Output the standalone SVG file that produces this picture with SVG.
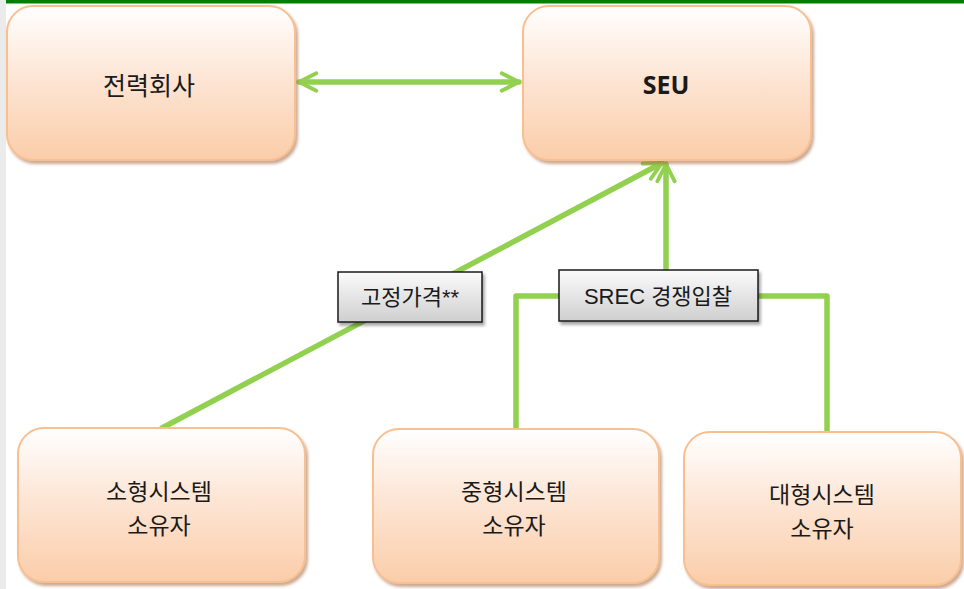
<svg xmlns="http://www.w3.org/2000/svg" width="964" height="589" viewBox="0 0 964 589">
<defs>
<linearGradient id="peach" x1="0" y1="0" x2="0" y2="1">
<stop offset="0" stop-color="#ffffff"/>
<stop offset="0.45" stop-color="#fde6d6"/>
<stop offset="1" stop-color="#fbcda9"/>
</linearGradient>
<linearGradient id="gray" x1="0" y1="0" x2="0" y2="1">
<stop offset="0" stop-color="#fbfbfb"/>
<stop offset="1" stop-color="#cfcfcf"/>
</linearGradient>
<filter id="sh" x="-10%" y="-10%" width="130%" height="130%">
<feGaussianBlur in="SourceAlpha" stdDeviation="1.5"/>
<feOffset dx="2" dy="3" result="b"/>
<feFlood flood-color="#a0643a" flood-opacity="0.55"/>
<feComposite in2="b" operator="in"/>
<feMerge><feMergeNode/><feMergeNode in="SourceGraphic"/></feMerge>
</filter>
<filter id="sh2" x="-10%" y="-10%" width="130%" height="140%">
<feGaussianBlur in="SourceAlpha" stdDeviation="1.5"/>
<feOffset dx="2" dy="3" result="b"/>
<feFlood flood-color="#000" flood-opacity="0.35"/>
<feComposite in2="b" operator="in"/>
<feMerge><feMergeNode/><feMergeNode in="SourceGraphic"/></feMerge>
</filter>
<marker id="arr" viewBox="0 0 12 12" refX="11" refY="6" markerWidth="4.2" markerHeight="4.2" orient="auto-start-reverse" markerUnits="strokeWidth">
<path d="M2,1.5 L11,6 L2,10.5" fill="none" stroke="#92d050" stroke-width="2" stroke-linecap="round" stroke-linejoin="round"/>
</marker>
<style>
.box{fill:url(#peach);stroke:#f8bf90;stroke-width:2;filter:url(#sh)}
.lbl{fill:url(#gray);stroke:#1a1a1a;stroke-width:1.5;filter:url(#sh2)}
.t{font-family:"Noto Sans CJK KR","Noto Sans",sans-serif;font-size:25px;fill:#1a1a1a;text-anchor:middle;dominant-baseline:central}
.t2{font-family:"Noto Sans CJK KR","Noto Sans",sans-serif;font-size:23px;fill:#1a1a1a;text-anchor:middle;dominant-baseline:central}
.lt{font-family:"Liberation Sans","Noto Sans CJK KR",sans-serif;font-size:22px;fill:#1a1a1a;text-anchor:middle;dominant-baseline:central}
.c{fill:none;stroke:#92d050;stroke-width:5.5;stroke-linecap:round;stroke-linejoin:round}
</style>
</defs>
<rect x="0" y="0" width="964" height="589" fill="#ffffff"/>
<rect x="0" y="0" width="6" height="589" fill="#ebebeb"/>
<rect x="6" y="0" width="958" height="3.5" fill="#008000"/>

<g id="connectors">
<line class="c" x1="299" y1="82" x2="519" y2="82" marker-start="url(#arr)" marker-end="url(#arr)"/>
<line class="c" x1="162" y1="428" x2="662" y2="163" marker-end="url(#arr)"/>
<polyline class="c" points="516,428 516,296 827,296 827,431" style="stroke-linecap:butt"/>
<line class="c" x1="666" y1="272" x2="666" y2="164" marker-end="url(#arr)"/>
</g>

<g id="n-power">
<rect class="box" x="7" y="6" width="288" height="154" rx="26"/>
<text class="t" x="149" y="84">전력회사</text>
</g>
<g id="n-seu">
<rect class="box" x="523" y="6" width="288" height="154" rx="26"/>
<text class="t" x="666" y="84" style="font-weight:bold;font-family:'Open Sans','Noto Sans',sans-serif">SEU</text>
</g>
<g id="n-small">
<rect class="box" x="18" y="428" width="287" height="154" rx="26"/>
<text class="t2" x="159" y="490">소형시스템</text>
<text class="t2" x="159" y="524">소유자</text>
</g>
<g id="n-mid">
<rect class="box" x="373" y="429" width="286" height="154" rx="26"/>
<text class="t2" x="514" y="490">중형시스템</text>
<text class="t2" x="514" y="524">소유자</text>
</g>
<g id="n-large">
<rect class="box" x="684" y="432" width="277" height="153" rx="26"/>
<text class="t2" x="822" y="493">대형시스템</text>
<text class="t2" x="822" y="527">소유자</text>
</g>
<g id="l-fixed">
<rect class="lbl" x="338" y="272" width="144" height="50"/>
<text class="lt" x="410" y="297">고정가격**</text>
</g>
<g id="l-srec">
<rect class="lbl" x="559" y="270" width="199" height="51"/>
<text class="lt" x="658" y="296">SREC 경쟁입찰</text>
</g>
</svg>
